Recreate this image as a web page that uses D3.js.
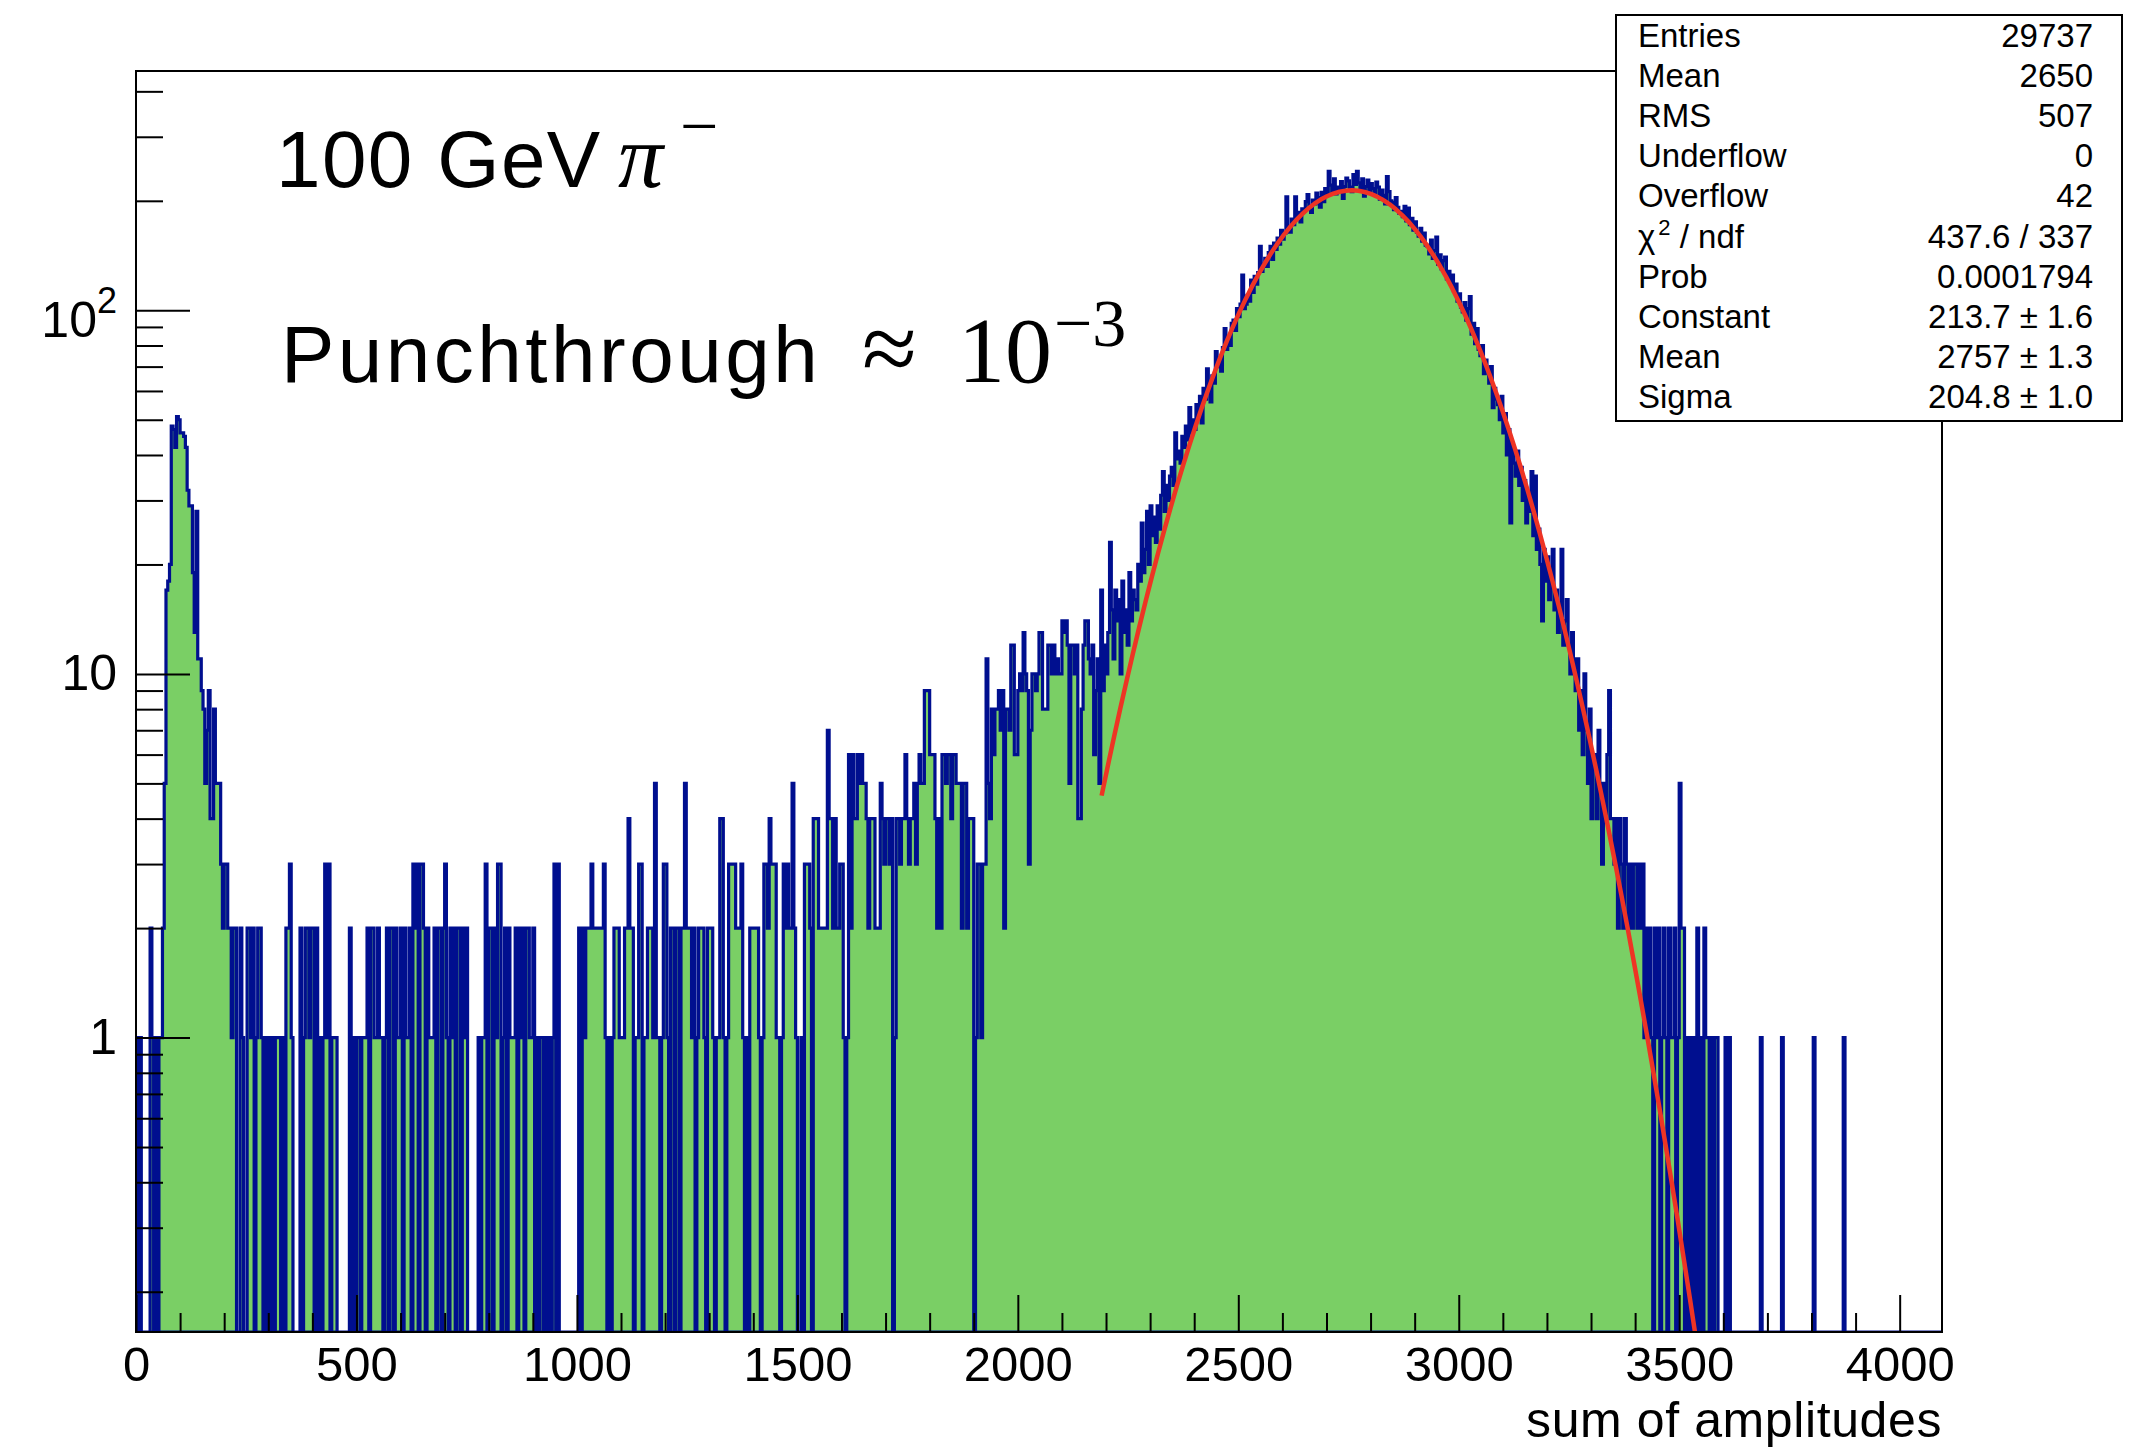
<!DOCTYPE html>
<html><head><meta charset="utf-8">
<script src="https://cdn.jsdelivr.net/npm/d3@7"></script>
<style>html,body{margin:0;padding:0;background:#fff;} svg{display:block;}</style>
</head><body>
<svg id="chart" width="2135" height="1448"></svg>
<script>
// ---------------- DATA ----------------
const binWidth = 4, xMin = 0, xMax = 4096;     // 1024 bins of 4
const yMin = 0.155, yMax = 455;                  // log axis range

// bins 0-15 (0-64)
const countsPedestal = [1,0,1,0,0,0,0,0,2,1,0,1,0,1,1,2];
// bins 16-55 (64-224) : low pedestal/punch peak
const countsLowPeak = [5,17,18,20,48,47,42,51,50,46,
  46,45,42,32,29,29,19,13,28,11,
  11,9,8,5,7,9,4,4,8,5,
  5,5,3,2,3,3,2,2,1,2];
// bins 56-265 (224-1064) : sparse flat region
const countsFlat = [
  2,0,0,2,1,0,0,2,2,1,
  2,0,1,2,2,1,0,1,0,1,
  0,1,0,1,1,1,0,1,0,2,
  2,3,1,0,0,0,0,2,0,1,
  2,2,1,2,2,0,2,0,1,0,
  1,3,1,3,0,1,1,1,0,0,
  0,0,0,0,0,2,0,1,0,1,
  1,0,1,1,1,2,0,2,2,1,
  1,2,1,1,0,1,2,0,2,2,
  0,2,1,1,2,0,2,1,1,2,
  0,3,2,3,0,3,3,2,0,2,
  1,1,1,2,0,2,2,0,2,3,
  1,0,2,1,2,0,2,2,0,2,
  1,2,0,0,0,0,0,0,1,0,
  1,1,3,0,2,2,0,2,1,3,
  3,0,1,2,0,2,1,1,1,2,
  0,2,1,2,0,2,2,1,1,2,
  0,1,0,1,1,0,1,0,1,0,
  1,3,0,3,0,0,0,0,0,0,
  0,0,0,0,0,2,0,2,1,2,
  2,2,3,2,2,2,2,2,2,3];
// bins 266-546 (1064-2188) : rising shoulder
const countsRise = [
  1,0,1,0,1,2,2,2,1,1,
  1,2,2,4,2,2,0,1,1,3,
  3,0,1,1,2,2,2,1,5,1,
  1,0,1,3,3,1,0,2,2,0,
  2,2,0,2,2,5,2,2,2,1,
  2,0,1,2,2,2,1,0,2,2,
  2,1,0,1,1,4,4,1,0,1,
  3,3,3,3,2,2,2,3,1,0,
  1,0,2,2,2,2,2,1,0,1,
  3,3,2,4,3,3,3,1,1,0,
  1,3,2,3,2,2,5,2,1,0,
  0,1,0,3,3,3,2,0,4,4,
  4,2,2,2,2,2,7,4,4,2,
  4,2,2,3,3,1,0,1,6,2,
  6,4,4,6,5,6,5,5,4,2,
  4,4,4,2,2,2,5,4,3,4,
  4,3,4,0,1,4,4,3,4,4,
  6,4,3,4,4,5,3,5,6,5,
  5,9,9,9,6,6,6,4,2,4,
  2,6,6,5,6,6,4,6,6,5,
  5,5,2,5,5,2,4,4,4,0,
  1,3,3,1,3,3,11,5,4,8,
  6,8,8,9,7,9,2,8,8,7,
  12,12,6,6,9,10,9,13,10,9,
  3,7,10,10,9,10,13,13,8,8,
  8,12,12,10,12,10,11,10,10,14,
  13,14,12,5,12,12,10,12,4,4,
  8,12,14,14,11,10,12,6,9,11,
  5];
// bins 547-891 (2188-3568) : main hadronic peak
const countsPeak = [
  17,9,12,10,13, 23,15,11,17,14, 16,10,18,13,15, 12,19,14,17,16,
  15,20,18,26,19, 22,28,20,29,24, 27,23,29,25,31, 36,28,33,30,35,
  37,33,46,39,41, 38,45,42,48,44, 54,46,50,47,55, 52,58,49,61,57,
  69,60,56,66,63, 77,70,74,68,79, 89,78,84,80,92, 94,88,101,96,104,
  125,101,104,110,106, 121,112,124,118,127, 150,128,134,139,132, 144,150,138,153,147,
  158,152,166,157,163, 205,168,164,178,172, 205,178,186,175,190, 188,199,208,193,186,
  201,196,210,204,192, 211,199,216,207,241, 221,212,230,209,218, 214,226,203,219,231,
  227,218,212,236,222, 241,224,215,230,206, 219,228,211,223,216, 209,225,218,202,214,
  207,196,233,212,200, 198,189,204,192,185, 187,181,193,176,191, 172,179,166,175,164,
  160,168,155,163,151, 150,143,156,139,146, 159,134,142,130,137, 140,122,128,119,125,
  113,118,106,111,102, 99,105,94,101,109, 86,92,81,89,78, 75,80,67,73,69,
  63,70,54,61,57, 55,50,58,46,52, 40,47,26,43,38, 35,41,33,37,30,
  34,26,31,28,36, 24,35,22,25,20, 14,22,18,21,16, 19,22,15,17,13,
  15,22,12,14,16, 12,10,13,11,9, 11,7,9,6,10, 7,5,8,4,6,
  6,4,7,5,3, 5,4,6,9,4, 4,3,4,2,4, 3,2,4,3,2,
  3,2,3,3,2, 3,2,3,1,2, 1,2,1,0,2, 1,2,0,1,2,
  1,0,2,1,1, 2,0,1,5,2, 2,0,1,0,1, 0,1,0,2,0,
  1,0,2,1,1];
// bins 892-1023 (3568-4096) : sparse tail
const countsTail = [
  0,1,0,1,1,0,0,0,0,1,0,1,
  0,0,0,0,0,0,0,0,0,0,0,0,
  0,0,0,0,0,1,0,0,0,0,0,0,
  0,0,0,0,0,1,0,0,0,0,0,0,
  0,0,0,0,0,0,0,0,0,0,0,1,
  0,0,0,0,0,0,0,0,0,0,0,0,
  0,0,0,0,1,0,0,0,0,0,0,0,
  0,0,0,0,0,0,0,0,0,0,0,0,
  0,0,0,0,0,0,0,0,0,0,0,0,
  0,0,0,0,0,0,0,0,0,0,0,0,
  0,0,0,0,0,0,0,0,0,0,0,0];

// Gaussian fit (from the stats box)
const fitConstant = 213.7, fitMean = 2757, fitSigma = 204.8;
const fitRange = [2190, 3610];
const fitNpx = 100;

// axis ticks
const xMajorTicks = [0,500,1000,1500,2000,2500,3000,3500,4000];
const xMinorTicks = d3.range(100, 4096, 100).filter(v => v % 500 !== 0);
const yMajorTicks = [1,10,100];
const yMinorTicks = [0.2,0.3,0.4,0.5,0.6,0.7,0.8,0.9,2,3,4,5,6,7,8,9,20,30,40,50,60,70,80,90,200,300,400];
const xTitle = "sum of amplitudes";

// stats box
const statsLabels = ["Entries","Mean","RMS","Underflow","Overflow","χ² / ndf","Prob","Constant","Mean","Sigma"];
const statsValues = ["29737","2650","507","0","42","437.6 / 337","0.0001794","213.7 ± 1.6","2757 ± 1.3","204.8 ± 1.0"];

// ---------------- DRAW ----------------
const counts = [].concat(countsPedestal, countsLowPeak, countsFlat, countsRise, countsPeak, countsTail);

const SANS = "'Liberation Sans', Arial, Helvetica, sans-serif";
const SERIF = "'Liberation Serif', 'Times New Roman', Times, serif";
const GREEN = "#7acf65", BLUE = "#000f8f", RED = "#ee3424";

const svg = d3.select("#chart");
const F = {l:136, r:1942, t:71, b:1332};
const x = d3.scaleLinear().domain([xMin, xMax]).range([F.l, F.r]);
const y = d3.scaleLog().domain([yMin, yMax]).range([F.b, F.t]);
const yBottom = y(yMin);

svg.append("rect").attr("width",2135).attr("height",1448).attr("fill","#fff");
svg.append("defs").append("clipPath").attr("id","clip")
  .append("rect").attr("x",F.l).attr("y",F.t).attr("width",F.r-F.l).attr("height",F.b-F.t);

const plot = svg.append("g").attr("clip-path","url(#clip)");

// histogram outline (also used as fill polygon)
let d = `M${x(xMin)},${yBottom}`;
counts.forEach((c,i) => {
  const yy = c > 0 ? y(c) : yBottom;
  d += `V${yy}H${x(xMin + (i+1)*binWidth)}`;
});
d += `V${yBottom}Z`;
plot.append("path").attr("d", d).attr("fill", GREEN).attr("stroke", "none");
plot.append("path").attr("d", d).attr("fill", "none").attr("stroke", BLUE)
  .attr("stroke-width", 3.2).attr("stroke-linejoin","miter");

// fit curve
const gaus = v => fitConstant * Math.exp(-0.5 * Math.pow((v - fitMean)/fitSigma, 2));
const fitX = d3.range(fitNpx + 1).map(k => fitRange[0] + k*(fitRange[1]-fitRange[0])/fitNpx);
plot.append("path").datum(fitX)
  .attr("d", d3.line().x(v => x(v)).y(v => y(gaus(v))))
  .attr("fill","none").attr("stroke",RED).attr("stroke-width",4.5).attr("stroke-linejoin","round");

// axes
function styleAxis(g, fs){
  g.select(".domain").remove();
  g.selectAll(".tick line").attr("stroke","#000").attr("stroke-width",2);
  g.selectAll(".tick text").attr("fill","#000").attr("font-family",SANS).attr("font-size",fs);
}
const gx = svg.append("g").attr("transform",`translate(0,${F.b})`)
  .call(d3.axisBottom(x).tickValues(xMajorTicks).tickSize(-37).tickSizeOuter(0).tickPadding(14).tickFormat(d3.format("d")));
styleAxis(gx, 49);
const gxm = svg.append("g").attr("transform",`translate(0,${F.b})`)
  .call(d3.axisBottom(x).tickValues(xMinorTicks).tickSize(-19).tickSizeOuter(0).tickFormat(""));
styleAxis(gxm, 49);

const gy = svg.append("g").attr("transform",`translate(${F.l},0)`)
  .call(d3.axisLeft(y).tickValues(yMajorTicks).tickSize(-54).tickSizeOuter(0).tickPadding(19)
    .tickFormat(v => v === 100 ? "" : d3.format("d")(v)));
styleAxis(gy, 50);
gy.selectAll(".tick text").filter(v => v === 100).each(function(){
  const t = d3.select(this).attr("dy","0.52em");
  t.append("tspan").text("10");
  t.append("tspan").attr("font-size",36).attr("dy","-0.67em").text("2");
});
const gym = svg.append("g").attr("transform",`translate(${F.l},0)`)
  .call(d3.axisLeft(y).tickValues(yMinorTicks).tickSize(-27).tickSizeOuter(0).tickFormat(""));
styleAxis(gym, 50);

// frame
svg.append("rect").attr("x",F.l).attr("y",F.t).attr("width",F.r-F.l).attr("height",F.b-F.t)
  .attr("fill","none").attr("stroke","#000").attr("stroke-width",2);

// x title
svg.append("text").attr("x",F.r).attr("y",1437).attr("text-anchor","end")
  .attr("font-family",SANS).attr("font-size",50).attr("letter-spacing",0.6).attr("fill","#000").text(xTitle);

// annotations
svg.append("text").attr("x",276).attr("y",187).attr("font-family",SANS).attr("font-size",80)
  .attr("letter-spacing",1.4).attr("fill","#000").text("100 GeV");
svg.append("text").attr("x",618).attr("y",187).attr("font-family",SERIF).attr("font-style","italic")
  .attr("font-size",90).attr("fill","#000").text("π");
svg.append("text").attr("x",680).attr("y",149).attr("font-family",SERIF)
  .attr("font-size",68).attr("fill","#000").text("−");

svg.append("text").attr("x",281).attr("y",382).attr("font-family",SANS).attr("font-size",80)
  .attr("letter-spacing",3.5).attr("fill","#000").text("Punchthrough");
svg.append("text").attr("x",862).attr("y",382).attr("font-family",SERIF)
  .attr("font-size",100).attr("fill","#000").text("≈");
svg.append("text").attr("x",958).attr("y",382).attr("font-family",SERIF)
  .attr("font-size",94).attr("fill","#000").text("10");
svg.append("text").attr("x",1054).attr("y",346).attr("font-family",SERIF)
  .attr("font-size",68).attr("fill","#000").text("−3");

// stats box
const sb = svg.append("g");
sb.append("rect").attr("x",1616).attr("y",15).attr("width",506).attr("height",406)
  .attr("fill","#fff").attr("stroke","#000").attr("stroke-width",2);
statsLabels.forEach((lab,k) => {
  const yy = 47 + k*40.1;
  const t = sb.append("text").attr("x",1638).attr("y",yy).attr("font-family",SANS)
    .attr("font-size",33).attr("fill","#000");
  if (lab.includes("²")) {
    const parts = lab.split("²");
    t.append("tspan").text(parts[0]);
    t.append("tspan").attr("font-size",22).attr("dy",-13).attr("dx",3).text("2");
    t.append("tspan").attr("dy",13).text(parts[1]);
  } else t.text(lab);
  sb.append("text").attr("x",2093).attr("y",yy).attr("text-anchor","end").attr("font-family",SANS)
    .attr("font-size",33).attr("fill","#000").text(statsValues[k]);
});
</script></body></html>
